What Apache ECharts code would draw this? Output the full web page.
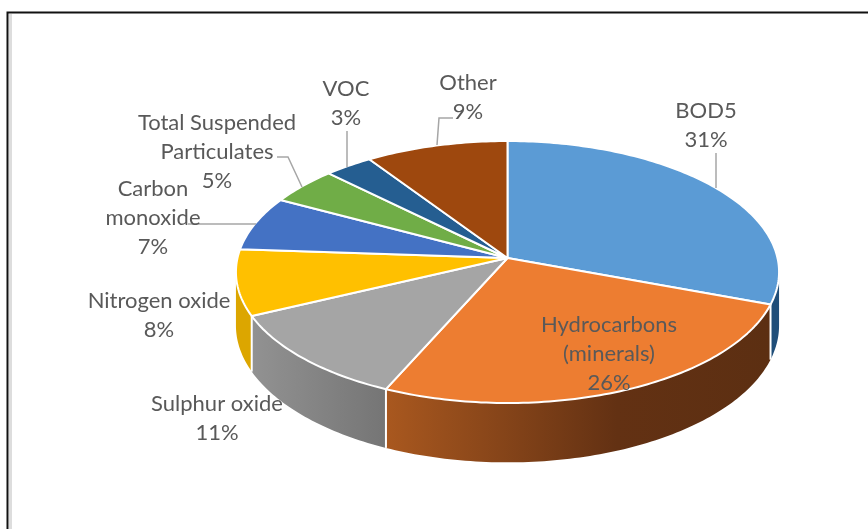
<!DOCTYPE html>
<html>
<head>
    <meta charset="utf-8">
    <title>ECharts</title>
    <script src="https://cdn.jsdelivr.net/npm/echarts@6/dist/echarts.min.js"></script>
    <style>
        html, body { margin: 0; padding: 0; background: #fff; }
    </style>
</head>
<body>
    <div id="chart" style="width: 868px;height:529px;"></div>
    <script type="text/javascript">
        // data, clockwise from twelve o'clock (labels show them rounded)
        var categories = ['BOD5', 'Hydrocarbons\n(minerals)', 'Sulphur oxide', 'Nitrogen oxide',
            'Carbon\nmonoxide', 'Total Suspended\nParticulates', 'VOC', 'Other'];
        var shares = [30.6, 26.0, 11.3, 8.1, 6.7, 4.6, 3.2, 9.4];

        // colours
        var topColors = ['#5B9BD5', '#ED7D31', '#A5A5A5', '#FFC000', '#4472C4', '#70AD47', '#255E91', '#9E480E'];
        var wallColors = ['#1F4E79',
            [['0', '#A9581F'], ['0.6', '#633113'], ['1', '#5C2F12']],
            [['0', '#929292'], ['1', '#757575']],
            '#DCA600', '#335593', '#548235', '#1C4668', '#763609'];
        var textColor = '#595959';
        var leaderColor = '#A6A6A6';

        // label centres and leader lines, by slice index
        var labelSpots = [[706, 125], [609, 354], [217, 418], [159, 315], [153, 218], [217, 152], [346, 103], [468, 97]];
        var leaders = {
            0: [[716, 153], [716, 188]],
            4: [[188, 224], [256, 224]],
            5: [[277, 157], [288, 157], [302, 187]],
            6: [[347, 131], [347, 167]],
            7: [[453, 118], [439, 118], [437, 145]]
        };

        // the pie is a tilted disc seen in perspective, k is the perspective strength
        var cx = 507.5, cy = 258, radiusX = 270, radiusY = 129.5, k = 0.107, depth = 53;
        var total = shares.reduce(function (a, b) { return a + b; }, 0);
        var rad = Math.PI / 180;

        function sliceRange(i) {
            var before = 0;
            for (var j = 0; j < i; j++) before += shares[j];
            return [before / total * 360, (before + shares[i]) / total * 360];
        }

        function rimPoint(deg, drop) {
            var X = Math.sin(deg * rad), Y = -Math.cos(deg * rad), d = 1 - k * Y;
            return [cx + radiusX * X / d, cy + (radiusY * Y + drop) / d];
        }

        function arcPoints(from, to, drop) {
            var pts = [], steps = Math.max(2, Math.ceil(Math.abs(to - from)));
            for (var s = 0; s <= steps; s++) pts.push(rimPoint(from + (to - from) * s / steps, drop));
            return pts;
        }

        function fillFor(c) {
            if (typeof c === 'string') return c;
            return new echarts.graphic.LinearGradient(0, 0, 1, 0, c.map(function (s) {
                return { offset: +s[0], color: s[1] };
            }));
        }

        // only the part of the rim facing the viewer gets a wall
        var wallFrom = 90 + Math.asin(k) / rad, wallTo = 270 - Math.asin(k) / rad;

        function renderWall(params) {
            var range = sliceRange(params.dataIndex);
            var a = Math.max(range[0], wallFrom), b = Math.min(range[1], wallTo);
            if (a >= b) return { type: 'group', children: [] };
            var pts = arcPoints(a, b, 0).concat(arcPoints(b, a, depth));
            var kids = [{ type: 'polygon', shape: { points: pts }, style: { fill: fillFor(wallColors[params.dataIndex]) } }];
            if (a === range[0]) {
                var p = rimPoint(a, 0), q = rimPoint(a, depth);
                kids.push({ type: 'line', shape: { x1: p[0], y1: p[1], x2: q[0], y2: q[1] }, style: { stroke: '#fff', lineWidth: 2 } });
            }
            return { type: 'group', children: kids };
        }

        function renderTop(params) {
            var range = sliceRange(params.dataIndex);
            var pts = [[cx, cy]].concat(arcPoints(range[0], range[1], 0));
            return {
                type: 'polygon',
                shape: { points: pts },
                style: { fill: topColors[params.dataIndex], stroke: '#fff', lineWidth: 2, lineJoin: 'round' }
            };
        }

        function renderLabel(params, api) {
            var i = params.dataIndex, kids = [];
            if (leaders[i]) {
                kids.push({ type: 'polyline', shape: { points: leaders[i] }, style: { fill: null, stroke: leaderColor, lineWidth: 1.5 } });
            }
            kids.push({
                type: 'text',
                style: {
                    x: labelSpots[i][0], y: labelSpots[i][1],
                    text: categories[i] + '\n' + Math.round(api.value(0)) + '%',
                    align: 'center', verticalAlign: 'middle',
                    fontFamily: 'Lato', fontSize: 22, lineHeight: 29, fill: textColor
                }
            });
            return { type: 'group', children: kids };
        }

        var myChart = echarts.init(document.getElementById('chart'));
        var option = {
            animation: false,
            backgroundColor: '#fff',
            // the screenshot's window frame
            graphic: [
                { type: 'rect', silent: true, shape: { x: 9, y: 14, width: 3, height: 515 }, style: { fill: '#DDDDDD' } },
                { type: 'polyline', silent: true, shape: { points: [[7.5, 529], [7.5, 12.5], [868, 12.5]] }, style: { fill: null, stroke: '#111', lineWidth: 2 } }
            ],
            series: [
                { type: 'custom', coordinateSystem: 'none', silent: true, z: 2, renderItem: renderWall, data: shares },
                { type: 'custom', coordinateSystem: 'none', silent: true, z: 3, renderItem: renderTop, data: shares },
                { type: 'custom', coordinateSystem: 'none', silent: true, z: 4, renderItem: renderLabel, data: shares }
            ]
        };
        myChart.setOption(option);
    </script>
</body>
</html>
